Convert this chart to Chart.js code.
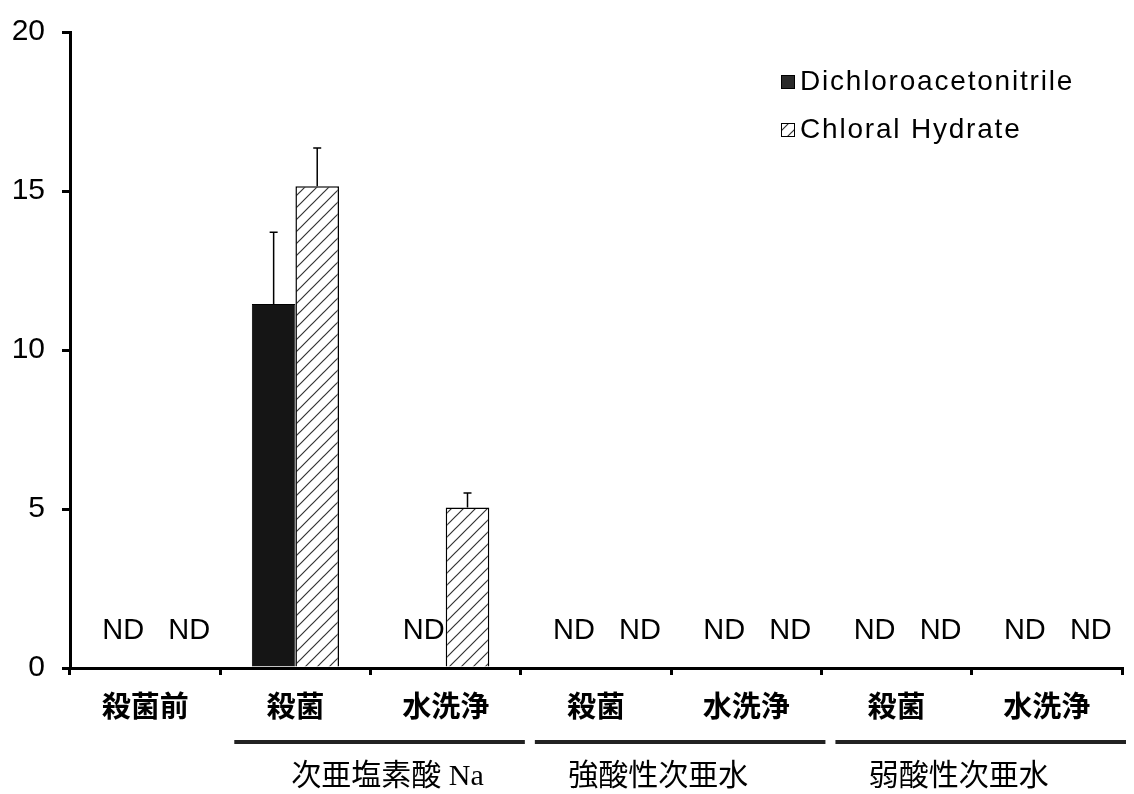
<!DOCTYPE html>
<html lang="ja">
<head>
  <meta charset="UTF-8">
  <title>DCAN / Chloral Hydrate</title>
  <script src="https://cdn.jsdelivr.net/npm/chart.js"></script>
  <style>
    body { margin: 0; background: #fff; }
    #wrap { width: 1134px; height: 794px; position: relative; }
  </style>
</head>
<body>
  <div id="wrap"><canvas id="chart"></canvas></div>

  <script>
    // categorias e valores (null = ND)
    const categories = ['殺菌前', '殺菌', '水洗浄', '殺菌', '水洗浄', '殺菌', '水洗浄'];
    const dcanValues = [null, 11.45, null, null, null, null, null];
    const dcanErrors = [null, 2.25, null, null, null, null, null];
    const chValues = [null, 15.15, 5.05, null, null, null, null];
    const chErrors = [null, 1.2, 0.45, null, null, null, null];
    const seriesNames = ['Dichloroacetonitrile', 'Chloral Hydrate'];
    const groupLabels = ['次亜塩素酸 Na', '強酸性次亜水', '弱酸性次亜水'];
    const groupStart = [1, 3, 5];
    const groupEnd = [2, 4, 6];
    const yTicks = [0, 5, 10, 15, 20];

    function hatch() {
      const c = document.createElement('canvas');
      c.width = 12; c.height = 12;
      const g = c.getContext('2d');
      g.fillStyle = '#fff';
      g.fillRect(0, 0, 12, 12);
      g.strokeStyle = '#333';
      g.lineWidth = 1.2;
      g.beginPath();
      g.moveTo(0, 12); g.lineTo(12, 0);
      g.moveTo(-6, 6); g.lineTo(6, -6);
      g.moveTo(6, 18); g.lineTo(18, 6);
      g.stroke();
      return g.createPattern(c, 'repeat');
    }
    const chPattern = hatch();

    const extras = {
      id: 'extras',
      afterDatasetsDraw(chart) {
        const ctx = chart.ctx;
        const x = chart.scales.x, y = chart.scales.y;
        const errs = [dcanErrors, chErrors];
        const vals = [dcanValues, chValues];
        const ndOffset = [-22, 44];
        ctx.save();

        // barras de erro (só para cima)
        ctx.strokeStyle = '#000';
        ctx.lineWidth = 1.5;
        [0, 1].forEach(d => {
          const meta = chart.getDatasetMeta(d);
          vals[d].forEach((v, i) => {
            if (v === null || errs[d][i] === null) return;
            const bx = meta.data[i].x;
            const top = y.getPixelForValue(v + errs[d][i]);
            const base = y.getPixelForValue(v);
            ctx.beginPath();
            ctx.moveTo(bx, base); ctx.lineTo(bx, top);
            ctx.moveTo(bx - 4, top); ctx.lineTo(bx + 4, top);
            ctx.stroke();
          });
        });

        // ND
        ctx.fillStyle = '#000';
        ctx.font = '29px "Liberation Sans", Arial, sans-serif';
        ctx.textAlign = 'center';
        ctx.textBaseline = 'middle';
        const ndY = y.getPixelForValue(0) - 37;
        [0, 1].forEach(d => {
          vals[d].forEach((v, i) => {
            if (v !== null) return;
            ctx.fillText('ND', x.getPixelForValue(i) + ndOffset[d], ndY);
          });
        });

        // grupos
        const cw = (x.right - x.left) / categories.length;
        const labelShift = [8, -22, -22];
        ctx.strokeStyle = '#222';
        ctx.lineWidth = 4;
        ctx.font = '30px "Liberation Serif", "Noto Sans CJK JP", serif';
        groupLabels.forEach((lab, k) => {
          const l = x.getPixelForValue(groupStart[k]) - cw / 2 + 14;
          const r = x.getPixelForValue(groupEnd[k]) + cw / 2 + 4;
          ctx.beginPath();
          ctx.moveTo(l, 742); ctx.lineTo(r, 742);
          ctx.stroke();
          ctx.fillText(lab, (l + r) / 2 + labelShift[k], 777);
        });

        // legenda
        const lx = 781;
        const rows = [82, 130];
        ctx.textAlign = 'left';
        ctx.font = '28px "Liberation Sans", Arial, sans-serif';
        ctx.letterSpacing = '1.8px';
        rows.forEach((ry, k) => {
          ctx.fillStyle = k === 0 ? '#2a2a2a' : chPattern;
          ctx.fillRect(lx, ry - 7, 14, 14);
          ctx.lineWidth = 1;
          ctx.strokeStyle = '#000';
          ctx.strokeRect(lx + 0.5, ry - 6.5, 13, 13);
          ctx.fillStyle = '#000';
          ctx.fillText(seriesNames[k], lx + 19, ry);
        });
        ctx.restore();
      }
    };

    new Chart(document.getElementById('chart'), {
      type: 'bar',
      data: {
        labels: categories,
        datasets: [
          { label: seriesNames[0], data: dcanValues, backgroundColor: '#151515', borderColor: '#000', borderWidth: 1 },
          { label: seriesNames[1], data: chValues, backgroundColor: chPattern, borderColor: '#000', borderWidth: 1.5 }
        ]
      },
      options: {
        responsive: true,
        maintainAspectRatio: false,
        animation: false,
        layout: { padding: { top: 24, right: 12, left: 0, bottom: 0 } },
        plugins: { legend: { display: false }, tooltip: { enabled: false } },
        datasets: { bar: { categoryPercentage: 0.58, barPercentage: 1.0 } },
        scales: {
          x: {
            afterFit: s => { s.height = 126; },
            grid: { display: true, drawOnChartArea: false, offset: true, tickLength: 7, color: '#000', lineWidth: 3 },
            border: { display: true, color: '#000', width: 3 },
            ticks: { color: '#000', padding: 14, font: { family: '"Noto Sans CJK JP", sans-serif', size: 29, weight: 'bold' } }
          },
          y: {
            min: 0, max: 20,
            afterFit: s => { s.width = 70; },
            afterBuildTicks: s => { s.ticks = yTicks.map(v => ({ value: v })); },
            grid: { display: true, drawOnChartArea: false, tickLength: 8, color: '#000', lineWidth: 3 },
            border: { display: true, color: '#000', width: 3 },
            ticks: { color: '#000', padding: 17, font: { family: '"Liberation Sans", Arial, sans-serif', size: 30, lineHeight: 1 } }
          }
        }
      },
      plugins: [extras]
    });
  </script>
</body>
</html>
